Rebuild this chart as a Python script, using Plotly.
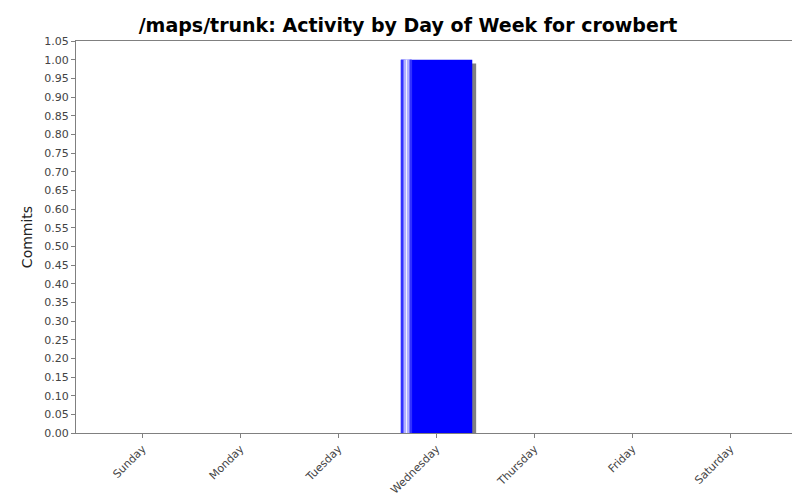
import plotly.graph_objects as go

days = ["Sunday", "Monday", "Tuesday", "Wednesday", "Thursday", "Friday", "Saturday"]
commits = [0, 0, 0, 1, 0, 0, 0]

xs = list(range(len(days)))
w = 0.73
fig = go.Figure()
# shadow
fig.add_bar(x=xs, y=[c * 0.99 for c in commits], width=w, offset=-w/2 + 0.04,
            marker=dict(color="#808080", line_width=0), hoverinfo="skip")
fig.add_bar(x=xs, y=commits, width=w, offset=-w/2,
            marker=dict(color="#0000ff", line_width=0))
# gradient highlight stripes
stripes = [(0.01, "#3030ff"), (0.025, "#7070ff"), (0.04, "#b0b0ff"), (0.055, "#f0f0ff"),
           (0.07, "#b0b0ff"), (0.085, "#7070ff"), (0.10, "#3030ff")]
for off, col in stripes:
    fig.add_bar(x=xs, y=commits, width=0.016, offset=-w/2 + off,
                marker=dict(color=col, line_width=0), hoverinfo="skip")

fig.update_layout(
    width=800, height=500, barmode="overlay", showlegend=False,
    paper_bgcolor="white", plot_bgcolor="white",
    margin=dict(l=68, r=11, t=33, b=75, autoexpand=False),
    title=dict(text="<b>/maps/trunk: Activity by Day of Week for crowbert</b>",
               x=0.5, y=0.965, xanchor="center", yanchor="middle",
               font=dict(family="DejaVu Sans", size=19, color="black")),
    font=dict(family="DejaVu Sans", size=11, color="#444444"),
)
fig.update_xaxes(tickmode="array", tickvals=xs, ticktext=days, range=[-0.68, 6.68],
                 tickangle=-45, showgrid=False, ticks="outside", ticklen=4,
                 tickcolor="#808080", showline=True, linecolor="#808080", mirror=True,
                 zeroline=False, automargin=False)
fig.update_yaxes(range=[0, 1.05], dtick=0.05, tickformat=".2f", showgrid=False,
                 ticks="outside", ticklen=4, tickcolor="#808080",
                 showline=True, linecolor="#808080", mirror=True, zeroline=False,
                 automargin=False,
                 title=dict(text="Commits", standoff=8, font=dict(size=14, color="#222222")))
fig.write_html("out.html")
